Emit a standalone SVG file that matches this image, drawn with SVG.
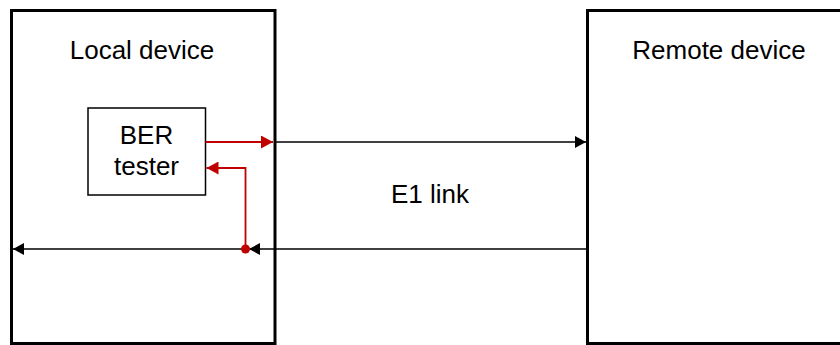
<svg xmlns="http://www.w3.org/2000/svg" width="840" height="345" viewBox="0 0 840 345">
<style>
.dev{fill:#fff;stroke:#000;stroke-width:3}
.box{fill:#fff;stroke:#000;stroke-width:1.5}
.t{font-family:"Liberation Sans",Arial,sans-serif;font-size:26px;fill:#000;text-anchor:middle}
.k{fill:none;stroke:#000;stroke-width:1.6}
.r{fill:none;stroke:#c00000;stroke-width:1.8}
</style>
<defs>
<marker id="ak" viewBox="0 0 10 10" refX="10" refY="5" markerWidth="11" markerHeight="12" markerUnits="userSpaceOnUse" orient="auto" preserveAspectRatio="none"><path d="M0,0L10,5L0,10z" fill="#000"/></marker>
<marker id="ar" viewBox="0 0 10 10" refX="10" refY="5" markerWidth="12" markerHeight="13" markerUnits="userSpaceOnUse" orient="auto" preserveAspectRatio="none"><path d="M0,0L10,5L0,10z" fill="#c00000"/></marker>
</defs>
<g id="local-device">
<rect class="dev" x="11.5" y="10.5" width="263.5" height="333"/>
<text class="t" x="142" y="59">Local device</text>
</g>
<g id="remote-device">
<rect class="dev" x="587.5" y="10.5" width="260" height="333"/>
<text class="t" x="719" y="59">Remote device</text>
</g>
<g id="ber-tester">
<rect class="box" x="88" y="108" width="117.5" height="87"/>
<text class="t" x="146.5" y="144">BER</text>
<text class="t" x="146.5" y="175">tester</text>
</g>
<g id="connectors">
<line class="k" x1="275" y1="142" x2="586" y2="142" marker-end="url(#ak)"/>
<line class="k" x1="586" y1="249" x2="249" y2="249" marker-end="url(#ak)"/>
<line class="k" x1="249" y1="249" x2="13" y2="249" marker-end="url(#ak)"/>
<line class="r" x1="205.5" y1="142" x2="273" y2="142" marker-end="url(#ar)"/>
<polyline class="r" points="245.5,249 245.5,168 206.5,168" marker-end="url(#ar)"/>
<circle cx="245.5" cy="249" r="4.5" fill="#c00000"/>
<text class="t" x="430" y="203">E1 link</text>
</g>
</svg>
